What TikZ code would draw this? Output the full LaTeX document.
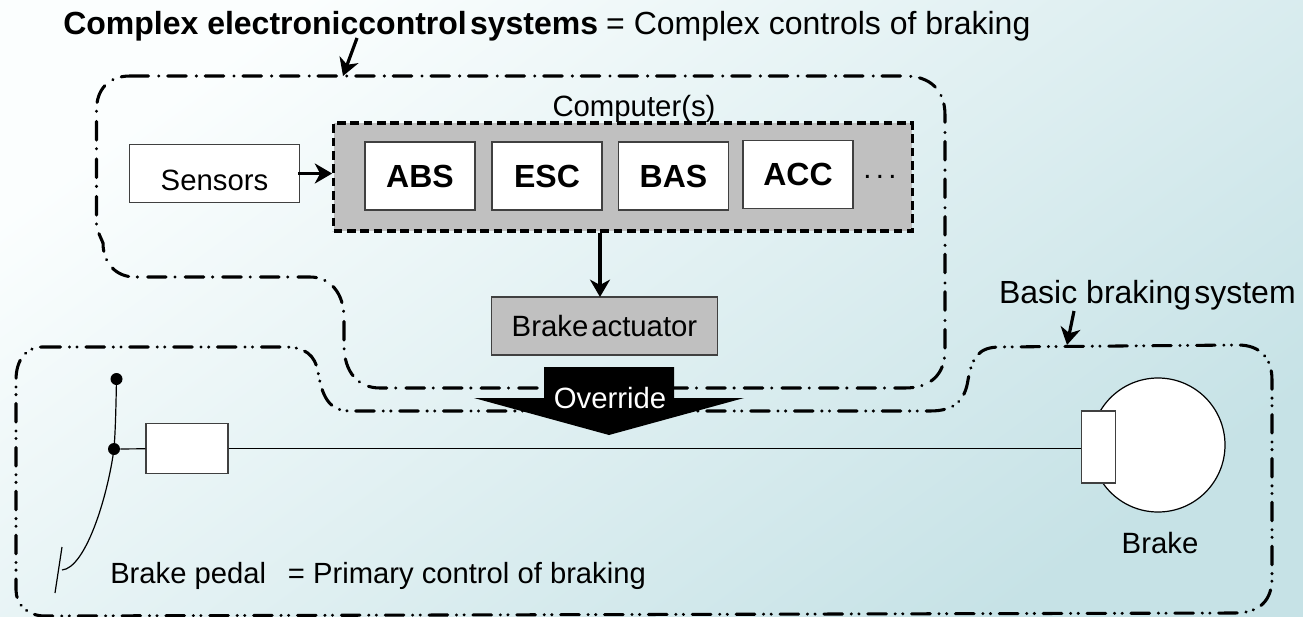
\documentclass[tikz,border=0pt]{standalone}
\usepackage{fontspec}
\setmainfont{Liberation Sans}
\usetikzlibrary{arrows.meta}
\definecolor{bgtop}{HTML}{FBFEFE}
\definecolor{bgbot}{HTML}{C6E2E6}
\definecolor{unit}{HTML}{C0C0C0}
\tikzset{ box/.style = { rectangle % plain block
, draw = black!75
, line width = 0.8pt
, fill = white
, inner sep = 0pt
}
, grey/.style = { box % actuator block
, fill = unit
}
, modul/.style = { box % function inside the computer
, minimum width = 82.5pt
, minimum height = 51pt
, font = \fontsize{24}{24}\selectfont\bfseries
}
, lbl/.style = { inner sep = 0pt % free text
, font = \fontsize{22}{22}\selectfont
}
, biglbl/.style = { inner sep = 0pt % heading text
, font = \fontsize{24}{24}\selectfont
}
, joint/.style = { circle % pedal pivot
, fill = black
, inner sep = 0pt
, minimum size = 9pt
}
, ptr/.style = { line width = 2.4pt % thick arrow
, -{Stealth[length=13pt,width=15pt,inset=4pt]}
}
, cplx/.style = { line width = 2.3pt % one dot per period
, line cap = round
, dash pattern = on 14pt off 7.5pt on 0.2pt off 6.5pt
}
, basic/.style = { line width = 2.3pt % two dots per period
, line cap = round
, dash pattern = on 14pt off 6.5pt on 0.2pt off 5.5pt on 0.2pt off 6.5pt
}
, wire/.style = { line width = 0.9pt
}
}
\newcommand{\sz}{\fontsize{22}{22}\selectfont}
\begin{document}
\begin{tikzpicture}[x=0.75pt, y=-0.75pt]
    \shade[left color=bgtop, right color=bgbot, shading angle=36] (0,0) rectangle (1303,617);
    \useasboundingbox (0,0) rectangle (1303,617);

    % outlines
    \draw[cplx] (130,76) -- (905,76) .. controls (930,76) and (945,90) .. (945,115) -- (945,350)
        .. controls (945,375) and (930,388) .. (905,388) -- (380,388)
        .. controls (358,388) and (344,372) .. (344,345) -- (344,318)
        .. controls (344,293) and (330,277) .. (310,277) -- (135,277)
        .. controls (115,277) and (103,262) .. (103,243) -- (96.5,228) -- (96.5,110)
        .. controls (96.5,90) and (108,76) .. (130,76);
    \draw[basic] (42,347) -- (285,347) .. controls (305,347) and (315,355) .. (318,372)
        .. controls (322,395) and (328,411) .. (350,411) -- (930,411)
        .. controls (955,411) and (965,400) .. (968,380)
        .. controls (972,358) and (978,347) .. (1000,347) -- (1238,345)
        .. controls (1260,345) and (1272,358) .. (1272,380) -- (1272,578)
        .. controls (1272,600) and (1260,613) .. (1235,613) -- (45,616)
        .. controls (28,616) and (16,605) .. (16,590) -- (16,380)
        .. controls (16,360) and (26,347) .. (42,347);

    % computer
    \node[rectangle, fill=unit, draw, line width=2.3pt, dash pattern=on 6.6pt off 3.4pt, inner sep=0pt, minimum width=434pt, minimum height=81pt] (computer) at (623,177) {};
    \node[lbl] (comptitle) at (634,109) {Computer(s)};
    \foreach[count=\n] \x/\y/\t in {420/176/ABS, 547/176/ESC, 673.5/176/BAS, 798/174.5/ACC} \node[modul] (mod\n) at (\x,\y) {\t};
    \node[lbl] (more) at (880,177) {.\hspace{0.15em}.\hspace{0.15em}.};
    \node[box, minimum width=128pt, minimum height=44pt, text height=24.8pt, text depth=0pt] (sensors) at (214.5,173.5) {\sz Sensors};
    \node[grey, minimum width=169pt, minimum height=43.5pt] (actuator) at (604.5,326) {\sz Brake\hspace{0.1em}actuator};
    \coordinate (actin) at (600,297);
    \draw[ptr] (sensors.east) ++(-2,0) -- (sensors.east -| computer.west);
    \draw[ptr] (computer.south -| actin) -- (actin);

    % override arrow
    \fill (544,367) -- (674,367) -- (674,398) -- (744,398) -- (609,435) -- (474,398) -- (544,398) -- cycle;
    \node[lbl, text=white] (override) at (610,398.5) {Override};

    % pedal and brake
    \node[joint] (pivot) at (116.5,379) {};
    \node[joint] (link) at (114,449) {};
    \coordinate (pedtop) at (62,547);
    \coordinate (pedbot) at (55,593);
    \coordinate (pedmid) at (62,570);
    \draw[wire] (pivot.center) .. controls (116,405) and (115.5,430) .. (link.center) .. controls (107,500) and (85,568) .. (pedmid);
    \draw[wire] (pedtop) -- (pedbot);
    \node[box, minimum width=61.5pt, minimum height=38pt] (master) at (187,448.5) {};
    \node[circle, draw, wire, fill=white, inner sep=0pt, minimum size=100.5pt] (disc) at (1158,445) {};
    \node[box, minimum width=26pt, minimum height=54pt] (pad) at (1098.5,447) {};
    \draw[wire] (link) -- (master);
    \draw[wire] (master) -- (master -| pad.west);

    % texts
    \node[biglbl, anchor=west] (title) at (63,26) {\textbf{Complex electroniccontrol\hspace{0.1em}systems}\hspace{0.25em}= Complex controls of braking};
    \coordinate (cplxin) at (343,76);
    \draw[ptr] (357,38) -- (cplxin);
    \node[biglbl, anchor=east] (basictitle) at (1296,295) {Basic braking\hspace{0.1em}system};
    \coordinate (basicin) at (1067,345);
    \draw[ptr] (1074,311) -- (basicin);
    \node[lbl] (brakelbl) at (1160,543.5) {Brake};
    \node[lbl, font=\fontsize{21.9}{22}\selectfont, anchor=west] (pedallbl) at (110,575.5) {Brake pedal\hspace{0.75em}= Primary control of braking};
\end{tikzpicture}
\end{document}
